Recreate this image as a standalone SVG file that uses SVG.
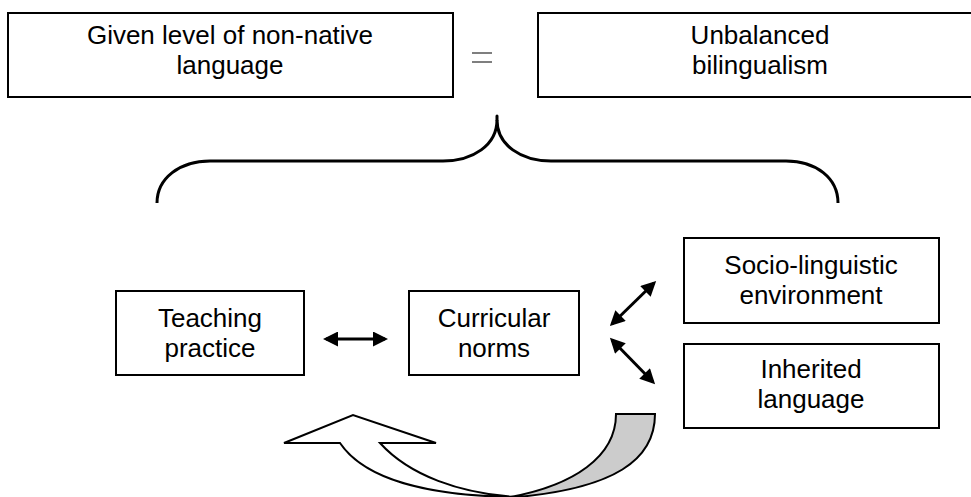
<svg xmlns="http://www.w3.org/2000/svg" width="971" height="497" viewBox="0 0 971 497">
<defs>
<style>
.box{fill:#fff;stroke:#000;stroke-width:2}
.t{font-family:"Liberation Sans",Arial,sans-serif;font-size:26px;fill:#000;text-anchor:middle}
.arr{stroke:#000;stroke-width:3;fill:none;marker-start:url(#ah);marker-end:url(#ah)}
</style>
<marker id="ah" viewBox="0 0 10 10" refX="8" refY="5" markerWidth="5.5" markerHeight="5" orient="auto-start-reverse" markerUnits="strokeWidth">
<path d="M0,0 L10,5 L0,10 Z" fill="#000"/>
</marker>
</defs>
<rect width="971" height="497" fill="#fff"/>
<g id="given">
<rect class="box" x="8" y="13" width="445" height="84"/>
<text class="t" x="230" y="44">Given level of non-native</text>
<text class="t" x="230" y="74">language</text>
</g>
<g id="equals">
<path d="M472,53 H492 M472,62 H492" stroke="#000" stroke-width="1.2"/>
</g>
<g id="unbalanced">
<rect class="box" x="538" y="13" width="450" height="84"/>
<text class="t" x="760" y="44">Unbalanced</text>
<text class="t" x="760" y="74">bilingualism</text>
</g>
<g id="brace">
<path d="M157,203 C157,178 180,161 210,161 H443 C473,161 497,145 497,120 C497,145 521,161 551,161 H786 C816,161 838,178 838,203" fill="none" stroke="#000" stroke-width="3"/>
<path d="M497,120 V116" stroke="#000" stroke-width="3" stroke-linecap="round"/>
</g>
<g id="teaching">
<rect class="box" x="116" y="291" width="188" height="84"/>
<text class="t" x="210" y="327">Teaching</text>
<text class="t" x="210" y="357">practice</text>
</g>
<g id="curricular">
<rect class="box" x="409" y="291" width="170" height="84"/>
<text class="t" x="494" y="327">Curricular</text>
<text class="t" x="494" y="357">norms</text>
</g>
<g id="socio">
<rect class="box" x="684" y="238" width="255" height="85"/>
<text class="t" x="811" y="274">Socio-linguistic</text>
<text class="t" x="811" y="304">environment</text>
</g>
<g id="inherited">
<rect class="box" x="684" y="344" width="255" height="84"/>
<text class="t" x="811" y="378">Inherited</text>
<text class="t" x="811" y="408">language</text>
</g>
<g id="connectors">
<line class="arr" x1="326" y1="339" x2="385" y2="339"/>
<line class="arr" x1="612" y1="324" x2="654" y2="283"/>
<line class="arr" x1="612" y1="340" x2="653" y2="382"/>
<path d="M616,414 H655 C655,458 618,490 505,498 C575,486 616,456 616,414 Z" fill="#ccc" stroke="#000" stroke-width="2"/>
<path d="M340,443 H284 L353,415 L436,443 H380 C410,476 460,493 515,497 C430,496 365,480 340,443 Z" fill="#fff" stroke="#000" stroke-width="2"/>
</g>
</svg>
